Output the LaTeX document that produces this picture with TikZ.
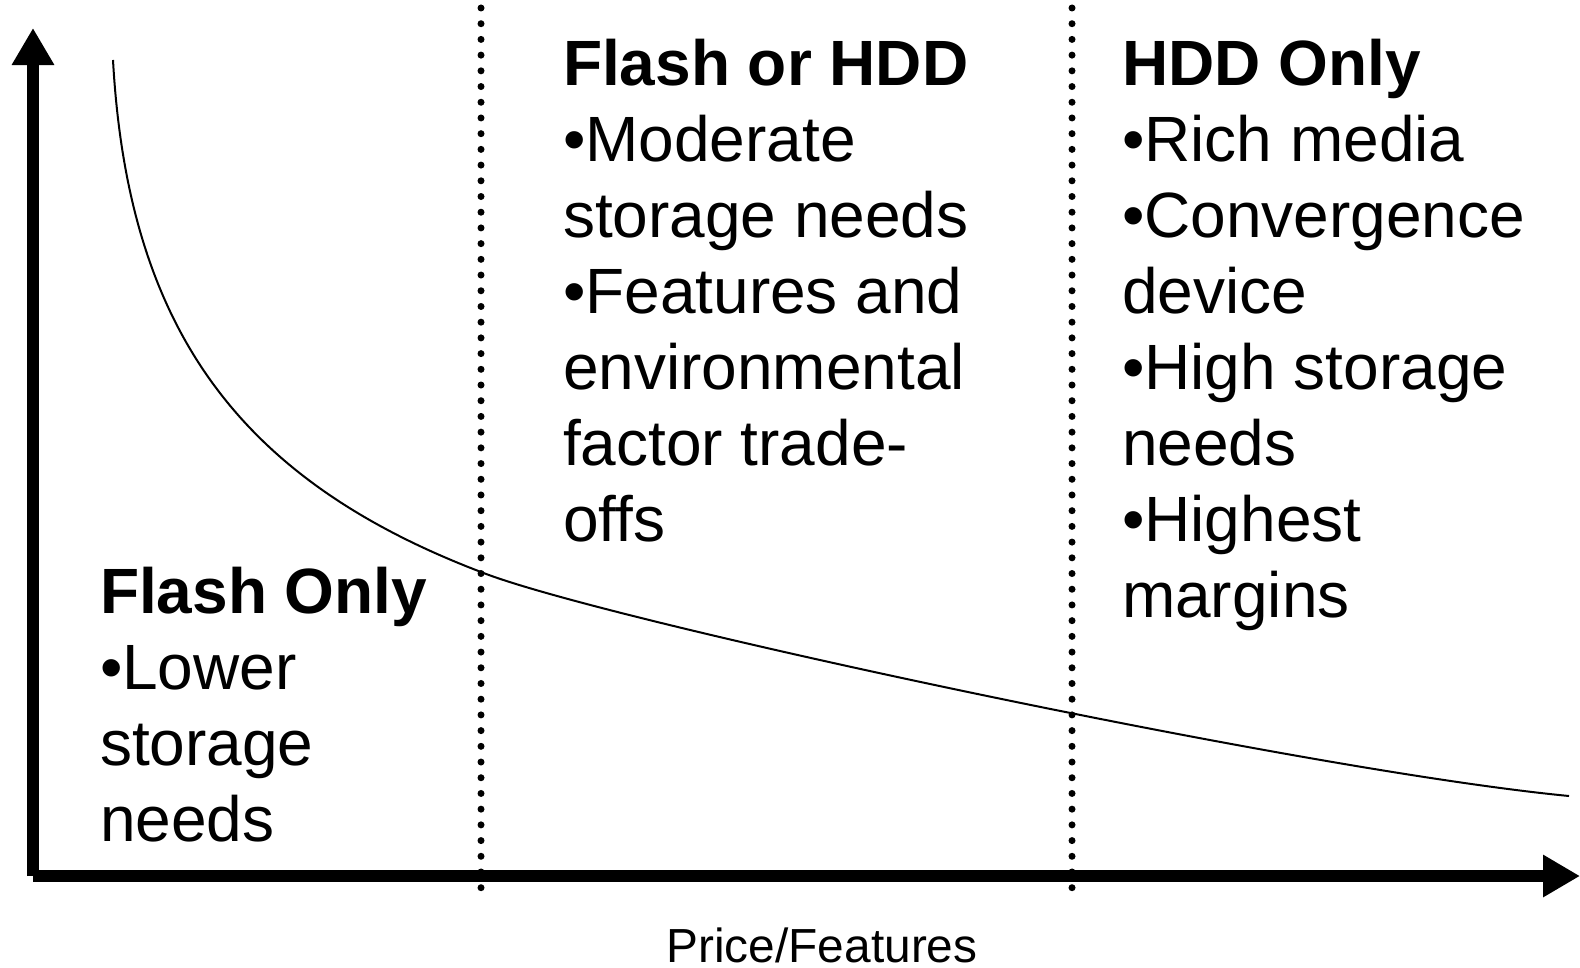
\documentclass[tikz,border=0pt]{standalone}
\usepackage{fontspec}
\setmainfont{Liberation Sans}
\usetikzlibrary{arrows.meta,positioning}

\begin{document}
\begin{tikzpicture}[x=0.01cm,y=-0.01cm]
  \tikzset{AxisStyle/.style = {line width   = 0.12cm,
                               -{Triangle[width=0.40cm,length=0.37cm]}},
           BorderStyle/.style = {line width = 0.07cm,
                                 line cap   = round,
                                 dash pattern = on 0pt off 0.157cm},
           BlockStyle/.style = {anchor      = north west,
                                inner sep   = 0pt,
                                outer sep   = 0pt,
                                align       = left,
                                font        = \fontsize{18.2}{21.6}\selectfont}}
  \useasboundingbox (0,0) rectangle (1580,967);
	%%% AXES %%%
	\coordinate (o) at (33,876);
	\coordinate (ytop) at (33,28);
	\coordinate (xend) at (1580,876);
	\draw[AxisStyle] (o) -- (ytop);
	\draw[AxisStyle] (o) -- (xend);
	\node[anchor=base, font=\fontsize{13.6}{16}\selectfont](xlabel) at (822,962){Price/Features};
	%%% BORDERS %%%
	\coordinate (b1top) at (481,8);
	\coordinate (b1bot) at (481,892);
	\coordinate (b2top) at (1072,8);
	\coordinate (b2bot) at (1072,892);
	\draw[BorderStyle] (b1top) -- (b1bot);
	\draw[BorderStyle] (b2top) -- (b2bot);
	%%% CURVE %%%
	\coordinate (cstart) at (113,60);
	\coordinate (ccross) at (481,572);
	\coordinate (cend) at (1569,796);
	\draw[line width=0.02cm] (cstart) .. controls (128,330) and (240,480) .. (ccross)
	                                  .. controls (601,620) and (1300,770) .. (cend);
	%%% TEXTS %%%
	\node[BlockStyle](flashonly) at (100,567){\textbf{Flash Only}\\ •Lower\\ storage\\ needs};
	\node[BlockStyle](flashhdd) at (563,39){\textbf{Flash or HDD}\\ •Moderate\\ storage needs\\ •Features and\\ environmental\\ factor trade-\\ offs};
	\node[BlockStyle](hddonly) at (1122,39){\textbf{HDD Only}\\ •Rich media\\ •Convergence\\ device\\ •High storage\\ needs\\ •Highest\\ margins};
\end{tikzpicture}
\end{document}
